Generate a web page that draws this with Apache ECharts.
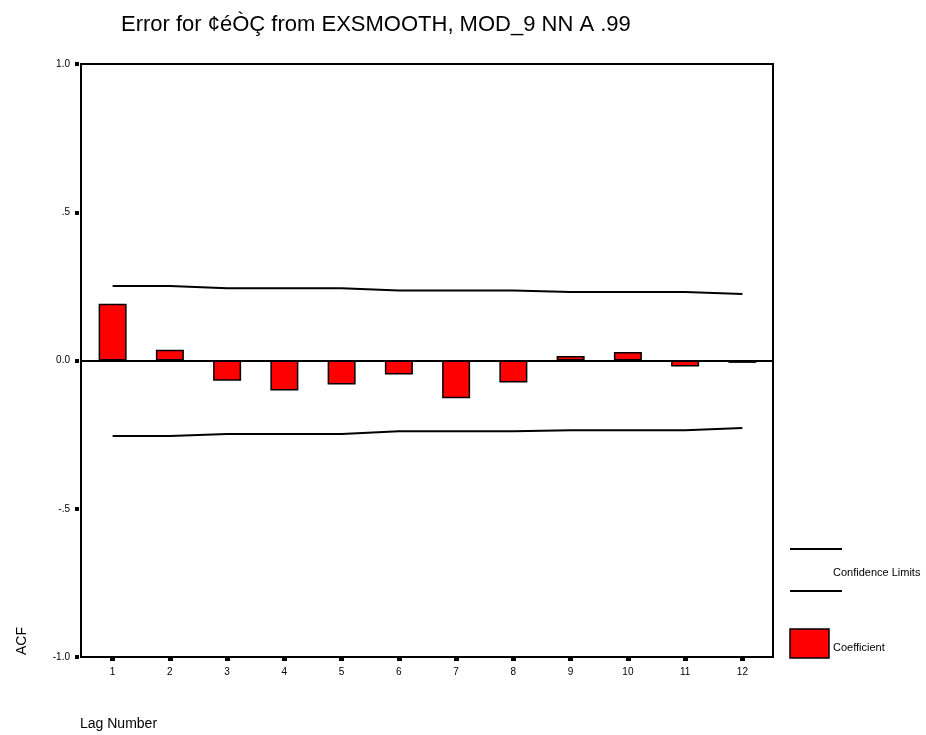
<!DOCTYPE html>
<html>
<head>
<meta charset="utf-8">
<title>ACF</title>
<script src="https://cdn.jsdelivr.net/npm/echarts@6/dist/echarts.min.js"></script>
<style>
  html, body { margin: 0; padding: 0; background: #ffffff; }
  #chart { width: 926px; height: 735px; }
</style>
</head>
<body>
<div id="chart"></div>
<script>
// Lag numbers on the category axis
const lags = ['1', '2', '3', '4', '5', '6', '7', '8', '9', '10', '11', '12'];
// Autocorrelation coefficient for each lag
const acf = [0.191, 0.036, -0.068, -0.101, -0.081, -0.047, -0.127, -0.074, 0.015, 0.029, -0.020, -0.008];
// Upper and lower confidence limits for each lag
const upperLimit = [0.251, 0.251, 0.244, 0.244, 0.244, 0.236, 0.236, 0.236, 0.231, 0.231, 0.231, 0.224];
const lowerLimit = [-0.255, -0.255, -0.248, -0.248, -0.248, -0.239, -0.239, -0.239, -0.235, -0.235, -0.235, -0.228];
// Value-axis ticks and their printed labels
const yTicks = [-1, -0.5, 0, 0.5, 1];
const yTickLabels = ['-1.0', '-.5', '0.0', '.5', '1.0'];

const FONT = '"Liberation Sans", Arial, sans-serif';

const chart = echarts.init(document.getElementById('chart'), null, { renderer: 'canvas' });

function yLabel(v) {
  for (let i = 0; i < yTicks.length; i++) {
    if (Math.abs(yTicks[i] - v) < 1e-9) return yTickLabels[i];
  }
  return '';
}

chart.setOption({
  animation: false,
  backgroundColor: '#ffffff',
  title: {
    text: 'Error for ¢éÒÇ from EXSMOOTH, MOD_9 NN A .99',
    left: 116,
    top: 9,
    textStyle: { fontFamily: FONT, fontSize: 22, fontWeight: 'normal', color: '#000' }
  },
  grid: [
    // outer frame of the plot
    { left: 81, right: 153, top: 64, bottom: 78, show: true, borderColor: '#000', borderWidth: 2, backgroundColor: 'transparent' },
    // data area, slightly inset from the frame
    { left: 84, right: 155, top: 64, bottom: 78, show: false }
  ],
  xAxis: [
    { gridIndex: 0, type: 'value', min: 0, max: 1, show: false },
    {
      gridIndex: 1,
      type: 'category',
      data: lags,
      position: 'bottom',
      offset: 1,
      axisLine: { show: false, onZero: false },
      axisTick: { show: true, alignWithLabel: true, length: 3, lineStyle: { color: '#000', width: 5 } },
      axisLabel: { margin: 9, fontFamily: FONT, fontSize: 10, color: '#000' },
      splitLine: { show: false }
    }
  ],
  yAxis: [
    { gridIndex: 0, type: 'value', min: -1, max: 1, show: false },
    {
      gridIndex: 1,
      type: 'value',
      min: -1,
      max: 1,
      interval: 0.5,
      position: 'left',
      offset: 5,
      axisLine: { show: false, onZero: false },
      axisTick: { show: true, length: 4, lineStyle: { color: '#000', width: 4 } },
      axisLabel: { margin: 9, fontFamily: FONT, fontSize: 10, color: '#000', formatter: yLabel },
      splitLine: { show: false }
    }
  ],
  series: [
    {
      // zero reference line across the frame
      type: 'line',
      xAxisIndex: 0,
      yAxisIndex: 0,
      data: [],
      silent: true,
      markLine: {
        silent: true,
        symbol: 'none',
        label: { show: false },
        lineStyle: { color: '#000', width: 2, type: 'solid' },
        data: [{ yAxis: 0 }]
      }
    },
    {
      name: 'Coefficient',
      type: 'bar',
      xAxisIndex: 1,
      yAxisIndex: 1,
      data: acf,
      barWidth: 28,
      itemStyle: { color: '#ff0000', borderColor: '#000', borderWidth: 1.5 },
      z: 3
    },
    {
      name: 'Upper Confidence Limit',
      type: 'line',
      xAxisIndex: 1,
      yAxisIndex: 1,
      data: upperLimit,
      symbol: 'none',
      lineStyle: { color: '#000', width: 2 },
      z: 4
    },
    {
      name: 'Lower Confidence Limit',
      type: 'line',
      xAxisIndex: 1,
      yAxisIndex: 1,
      data: lowerLimit,
      symbol: 'none',
      lineStyle: { color: '#000', width: 2 },
      z: 4
    }
  ],
  graphic: [
    {
      type: 'text', x: 22, y: 641, rotation: Math.PI / 2,
      style: { text: 'ACF', font: '14px ' + FONT, fill: '#000', align: 'center', verticalAlign: 'middle' }
    },
    {
      type: 'text', x: 80, y: 724,
      style: { text: 'Lag Number', font: '14px ' + FONT, fill: '#000', align: 'left', verticalAlign: 'middle' }
    },
    // legend: confidence limits
    { type: 'line', shape: { x1: 790, y1: 549, x2: 842, y2: 549 }, style: { stroke: '#000', lineWidth: 2 } },
    { type: 'line', shape: { x1: 790, y1: 591, x2: 842, y2: 591 }, style: { stroke: '#000', lineWidth: 2 } },
    {
      type: 'text', x: 833, y: 573,
      style: { text: 'Confidence Limits', font: '11px ' + FONT, fill: '#000', align: 'left', verticalAlign: 'middle' }
    },
    // legend: coefficient
    { type: 'rect', shape: { x: 790, y: 629, width: 39, height: 29 }, style: { fill: '#ff0000', stroke: '#000', lineWidth: 1.5 } },
    {
      type: 'text', x: 833, y: 648,
      style: { text: 'Coefficient', font: '11px ' + FONT, fill: '#000', align: 'left', verticalAlign: 'middle' }
    }
  ]
});
</script>
</body>
</html>
